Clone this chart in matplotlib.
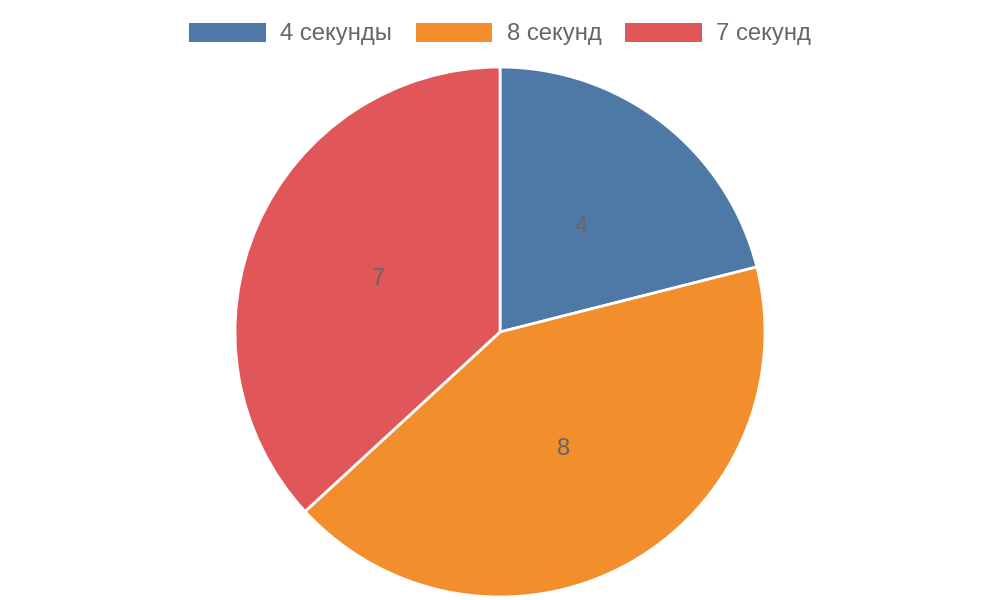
import matplotlib.pyplot as plt
from matplotlib.patches import Patch

plt.rcParams['font.family'] = ['Liberation Sans', 'DejaVu Sans']

labels = ['4 секунды', '8 секунд', '7 секунд']
values = [4, 8, 7]
colors = ['#4e79a7', '#f28e2b', '#e15759']

fig = plt.figure(figsize=(10, 6), dpi=100)
ax = fig.add_axes([0, 0, 1, 1])
ax.set_xlim(0, 1000)
ax.set_ylim(0, 600)
ax.set_aspect('equal')
ax.axis('off')

wedges, texts = ax.pie(values, colors=colors, startangle=90, counterclock=False,
                       center=(500, 268), radius=265, labels=[str(v) for v in values],
                       labeldistance=0.5,
                       wedgeprops=dict(edgecolor='white', linewidth=2),
                       textprops=dict(color='#666666', fontsize=17, ha='center', va='center'))
ax.set_xlim(0, 1000)
ax.set_ylim(0, 600)

handles = [Patch(facecolor=c, edgecolor='none') for c in colors]
fig.legend(handles, labels, loc='upper center', bbox_to_anchor=(0.5, 0.998), ncol=3,
           frameon=False, fontsize=17.2, labelcolor='#666666',
           handlelength=3.2, handleheight=0.85, handletextpad=0.6, columnspacing=1.0)

fig.savefig('out.png')
